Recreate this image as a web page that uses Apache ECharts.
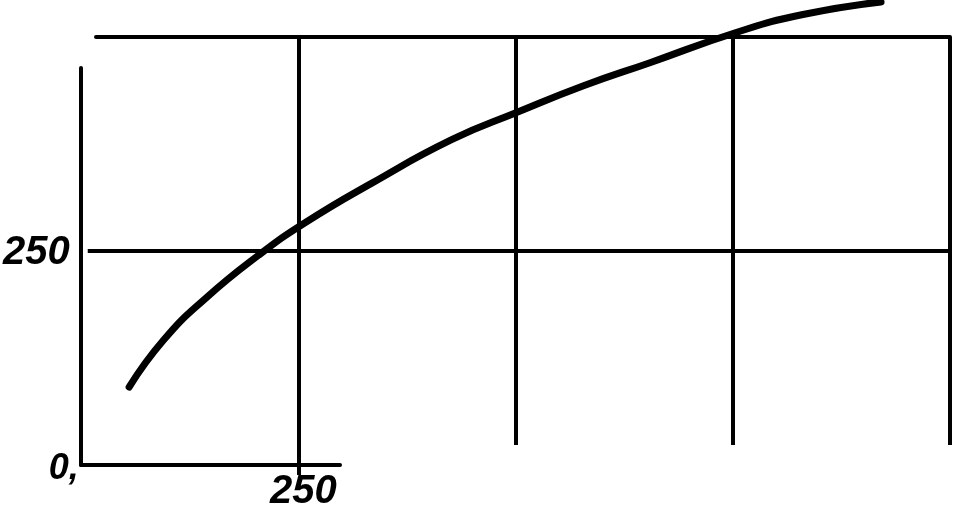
<!DOCTYPE html>
<html>
<head>
<meta charset="utf-8">
<script src="https://cdn.jsdelivr.net/npm/echarts@6/dist/echarts.min.js"></script>
<style>
html,body{margin:0;padding:0;background:#fff;}
#chart{width:960px;height:512px;}
</style>
</head>
<body>
<div id="chart"></div>
<script>
// Curve values (x, y)
const curveX = [48, 88, 137, 198, 252, 329, 422, 498, 575, 652, 751, 828, 920];
const curveY = [91, 146, 195, 245, 283, 329, 380, 412, 443, 470, 505, 526, 541];
const xTickLabels = {250: '250'};
const yTickLabels = {0: '0,', 250: '250'};

const INK = '#000';
const FONT = '"Liberation Sans", Arial, sans-serif';
const gridLine = {show: true, lineStyle: {color: INK, width: 4}};

const chart = echarts.init(document.getElementById('chart'), null, {renderer: 'canvas'});

function blankX(gridIndex, extra) {
  return Object.assign({type: 'value', gridIndex, min: 0, max: 1000, interval: 250,
    axisLine: {show: false}, axisTick: {show: false}, axisLabel: {show: false}, splitLine: {show: false}}, extra || {});
}
function blankY(gridIndex, extra) {
  return Object.assign({type: 'value', gridIndex, min: 0, max: 500, interval: 250,
    axisLine: {show: false}, axisTick: {show: false}, axisLabel: {show: false}, splitLine: {show: false}}, extra || {});
}

const option = {
  animation: false,
  backgroundColor: '#fff',
  grid: [
    {left: 81, right: 10, top: 37, bottom: 47},   // data
    {left: 96, right: 10, top: 37, bottom: 47},   // top border
    {left: 81, right: 10, top: 37, bottom: 67},   // vertical grid lines
    {left: 81, width: 259, top: 37, bottom: 47},  // short bottom axis
    {left: 81, width: 259, top: 37, bottom: 37},  // 250 vertical line extension
    {left: 81, right: 10, top: 68, bottom: 47}    // left axis line
  ],
  xAxis: [
    blankX(0, {axisLabel: {show: true, margin: 7, color: INK, fontFamily: FONT, fontSize: 40,
      fontStyle: 'italic', fontWeight: 'bold',
      formatter: v => xTickLabels[v] || ''}}),
    blankX(1, {position: 'top', axisLine: {show: true, onZero: false, lineStyle: {color: INK, width: 4}}}),
    blankX(2, {splitLine: Object.assign({showMinLine: false}, gridLine)}),
    blankX(3, {max: 298, axisLine: {show: true, onZero: false, lineStyle: {color: INK, width: 4}}}),
    blankX(4, {max: 298, splitLine: Object.assign({showMinLine: false, showMaxLine: false}, gridLine)}),
    blankX(5)
  ],
  yAxis: [
    blankY(0, {
      splitLine: Object.assign({showMinLine: false, showMaxLine: false}, gridLine),
      axisLabel: {show: true, margin: 9, color: INK, fontFamily: FONT, fontSize: 40,
        fontStyle: 'italic', fontWeight: 'bold',
        formatter: v => {
          const t = yTickLabels[v];
          if (!t) return '';
          return v === 0 ? '{z|' + t + '}' : '{n|' + t + '}';
        },
        rich: {
          z: {fontFamily: FONT, fontSize: 36, fontStyle: 'italic', fontWeight: 'bold', color: INK, padding: [8, 0, 0, 0]},
          n: {fontFamily: FONT, fontSize: 40, fontStyle: 'italic', fontWeight: 'bold', color: INK, padding: [4, 9, 0, 0]}
        }}
    }),
    blankY(1),
    blankY(2),
    blankY(3),
    blankY(4),
    blankY(5, {axisLine: {show: true, onZero: false, lineStyle: {color: INK, width: 4}}})
  ],
  series: [{
    type: 'line',
    xAxisIndex: 0,
    yAxisIndex: 0,
    data: curveX.map((x, i) => [x, curveY[i]]),
    smooth: 0.5,
    showSymbol: false,
    clip: false,
    lineStyle: {color: INK, width: 7, cap: 'round'}
  }]
};
chart.setOption(option);
</script>
</body>
</html>
